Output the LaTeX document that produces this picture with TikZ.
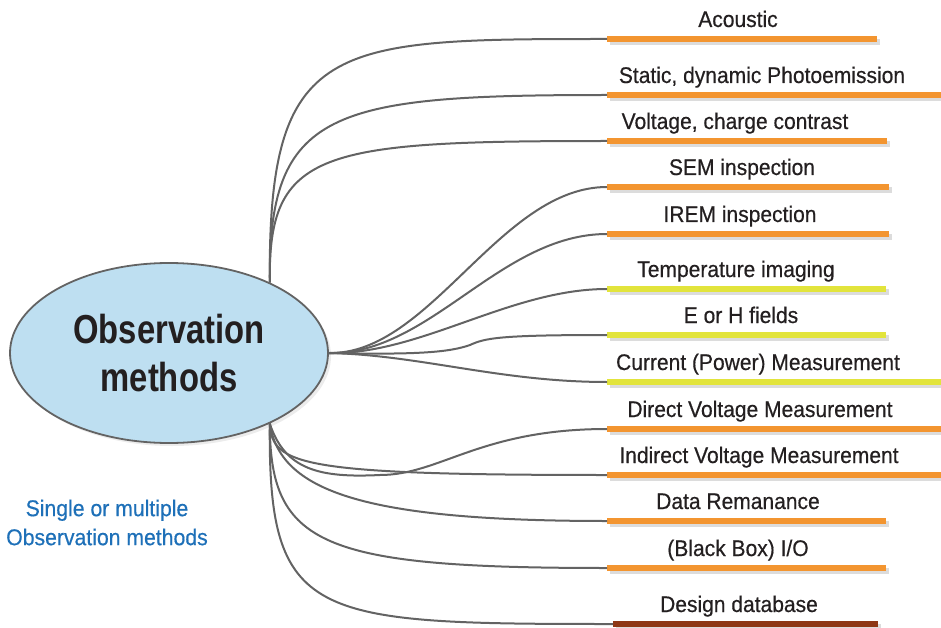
\documentclass[tikz,border=0pt]{standalone}
\usepackage{fontspec}
\setmainfont{Liberation Sans}[FakeStretch=0.93, FakeBold=0.5]
\newfontfamily\hubfont{Liberation Sans}[FakeStretch=0.81]
\usetikzlibrary{shapes.geometric,shadows,calc}
\definecolor{obsInk}{HTML}{231F20}
\definecolor{obsWire}{HTML}{636363}
\definecolor{obsSky}{HTML}{BEDFF1}
\definecolor{obsOrange}{HTML}{F39530}
\definecolor{obsLime}{HTML}{E2E43C}
\definecolor{obsRust}{HTML}{8E3614}
\definecolor{obsBlue}{HTML}{1E70B8}
\definecolor{obsShade}{HTML}{DCDCDC}

\begin{document}
\begin{tikzpicture}[x=1pt, y=-1pt,
      hub/.style={ellipse, draw=obsWire, line width=1.8pt, fill=obsSky,
        minimum width=318pt, minimum height=180pt, align=center,
        font=\hubfont\bfseries\fontsize{40.5}{48}\selectfont, text=obsInk,
        drop shadow={shadow xshift=3pt, shadow yshift=-3pt, fill=black!15}},
      wire/.style={draw=obsWire, line width=2pt},
      bar/.style={line width=6pt},
      barshade/.style={line width=6pt, draw=obsShade},
      lbl/.style={font=\fontsize{22.6}{26}\selectfont, text=obsInk,
        anchor=base, inner sep=0pt},
      note/.style={font=\fontsize{22.8}{29}\selectfont, text=obsBlue,
        align=center, inner sep=0pt}]
    \useasboundingbox (0,0) rectangle (941,628);
    \clip (0,0) rectangle (941,628);
    % central ellipse
    \node[hub] (hub) at (169,353) {Observation\\methods};
    \node[note] (multi) at (107,522.5) {Single or multiple\\Observation methods};
    % bars with their labels
    \foreach \nm/\xx/\yy/\len/\col/\lx/\txt in {
        acou/607/39/270/obsOrange/738/Acoustic,
        stat/607/95/334/obsOrange/762/{Static, dynamic Photoemission},
        volt/607/141/280/obsOrange/735/{Voltage, charge contrast},
        sem/607/187/282/obsOrange/742/SEM inspection,
        irem/607/234/282/obsOrange/740/IREM inspection,
        temp/607/289/279/obsLime/736/Temperature imaging,
        eh/607/335/279/obsLime/741/E or H fields,
        curr/607/382/334/obsLime/758/Current (Power) Measurement,
        dirv/607/429/334/obsOrange/760/Direct Voltage Measurement,
        indv/607/475/334/obsOrange/759/Indirect Voltage Measurement,
        rem/607/521/279/obsOrange/738/Data Remanance,
        blackbox/607/568/279/obsOrange/738/{(Black Box) I/O},
        dbase/613/624/265/obsRust/739/Design database}{
      \coordinate (\nm) at (\xx,\yy);
      \draw[barshade] ($(\nm)+(3,3)$) -- ++(\len,0);
      \draw[bar, draw=\col] (\nm) -- ++(\len,0);
      \node[lbl] (\nm-l) at (\lx,\yy-12) {\txt};
    }
    % upper fan
    \draw[wire] (hub.35) .. controls (268,40) and (330,39) .. (acou);
    \draw[wire] (hub.35) .. controls (268,110) and (330,95) .. (stat);
    \draw[wire] (hub.35) .. controls (268,150) and (320,141) .. (volt);
    % middle fan
    \draw[wire] (hub.east) .. controls (430,355) and (500,187) .. (sem);
    \draw[wire] (hub.east) .. controls (430,355) and (500,234) .. (irem);
    \draw[wire] (hub.east) .. controls (420,355) and (510,289) .. (temp);
    \draw[wire] (hub.east) .. controls (420,355) and (450,352) .. (470,345)
      .. controls (485,338) and (500,335) .. (eh);
    \draw[wire] (hub.east) .. controls (420,355) and (500,382) .. (curr);
    % lower fan
    \draw[wire] (hub.-35) .. controls (285,470) and (320,478) .. (380,475)
      .. controls (440,475) and (480,429) .. (dirv);
    \draw[wire] (hub.-35) .. controls (272,465) and (300,475) .. (indv);
    \draw[wire] (hub.-35) .. controls (280,490) and (360,521) .. (rem);
    \draw[wire] (hub.-35) .. controls (270,545) and (320,568) .. (blackbox);
    \draw[wire] (hub.-35) .. controls (268,620) and (310,624) .. (dbase);
  \end{tikzpicture}
\end{document}
